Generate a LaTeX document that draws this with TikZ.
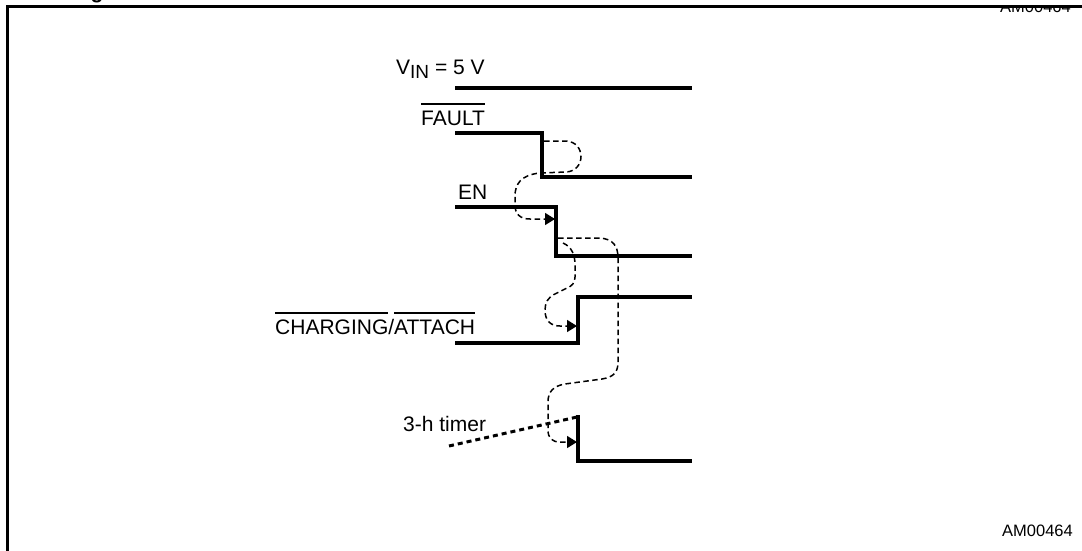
\documentclass[tikz,border=0pt]{standalone}
\usepackage{fontspec}
\setmainfont{Liberation Sans}
\usetikzlibrary{arrows.meta}
\newcommand\ovl[1]{\leavevmode\vbox{\hrule height 1.6pt\kern 5.5pt\hbox{#1}}}
\tikzset{
  wave/.style={line width=3.1pt, line join=miter},
  frame/.style={line width=3pt, line join=miter},
  cause/.style={line width=1.5pt, dash pattern=on 5.5pt off 3.5pt, -{Triangle[length=10pt,width=12pt]}},
  ramp/.style={line width=3pt, dash pattern=on 5pt off 4pt},
  lbl/.style={anchor=base west, inner sep=0pt, font=\fontsize{21}{25}\selectfont},
  small/.style={anchor=base east, inner sep=0pt, font=\fontsize{16.5}{20}\selectfont}
}
\begin{document}
\begin{tikzpicture}[x=1pt,y=-1pt]
\useasboundingbox (0,0) rectangle (1082,550);
% frame and cut-off texts
\node[anchor=base, inner sep=0pt, font=\fontsize{21}{25}\selectfont\bfseries] (gfrag) at (97,-1.5) {g};
\node[small] (amtop) at (1071,12.5) {AM00464};
\fill[white] (980,-2) rectangle (1082,5.5);
\coordinate (fbl) at (7,551);
\coordinate (ftl) at (7,6);
\coordinate (ftr) at (1083,6);
\draw[frame] (fbl) -- (ftl) -- (ftr);
\node[small] (am) at (1073,536) {AM00464};
% labels
\node[lbl] (vin) at (396,74) {V\raisebox{-4pt}{\fontsize{19}{22}\selectfont IN} = 5 V};
\node[lbl] (fault) at (421,125) {\ovl{FAULT}};
\node[lbl] (en) at (458,199) {EN};
\node[lbl] (chg) at (275,334) {\ovl{CHARGING}/\ovl{ATTACH}};
\node[lbl] (timer) at (403,431) {3-h timer};
% waveforms
\coordinate (v0) at (455,88); \coordinate (v1) at (692,88);
\draw[wave] (v0) -- (v1);
\coordinate (f0) at (455,133); \coordinate (fs) at (542,133); \coordinate (fe) at (542,177); \coordinate (f1) at (692,177);
\draw[wave] (f0) -- (fs) -- (fe) -- (f1);
\coordinate (e0) at (455,207); \coordinate (es) at (556,207); \coordinate (ee) at (556,256); \coordinate (e1) at (692,256);
\draw[wave] (e0) -- (es) -- (ee) -- (e1);
\coordinate (c0) at (455,343); \coordinate (cs) at (578,343); \coordinate (ce) at (578,297); \coordinate (c1) at (692,297);
\draw[wave] (c0) -- (cs) -- (ce) -- (c1);
\coordinate (t0) at (578,415); \coordinate (te) at (578,461); \coordinate (t1) at (692,461);
\draw[wave] (t0) -- (te) -- (t1);
\coordinate (r0) at (449,446); \coordinate (r1) at (577,417);
\draw[ramp] (r0) -- (r1);
% causal arrows
\coordinate (a1s) at (544,141); \coordinate (a1e) at (555,219);
\draw[cause] (a1s) -- (566,141) .. controls (586,142) and (586,171) .. (566,172)
  -- (540,173) .. controls (520,175) and (515,185) .. (515,196)
  -- (515,205) .. controls (515,214) and (520,219) .. (530,219) -- (a1e);
\coordinate (a2s) at (558,238); \coordinate (a2e) at (577,442);
\draw[cause] (a2s) -- (600,238) .. controls (613,239) and (618,246) .. (618,258)
  -- (618,362) .. controls (618,372) and (614,377) .. (602,379)
  -- (565,384) .. controls (553,386) and (548,392) .. (548,402)
  -- (548,430) .. controls (548,438) and (552,442) .. (560,442) -- (a2e);
\coordinate (a3s) at (563,243); \coordinate (a3e) at (577,326);
\draw[cause] (a3s) .. controls (572,247) and (575,255) .. (575,265)
  -- (575,277) .. controls (575,283) and (572,286) .. (567,288)
  -- (555,294) .. controls (548,297) and (545,303) .. (545,310)
  .. controls (545,320) and (550,326) .. (560,326) -- (a3e);
\end{tikzpicture}
\end{document}
